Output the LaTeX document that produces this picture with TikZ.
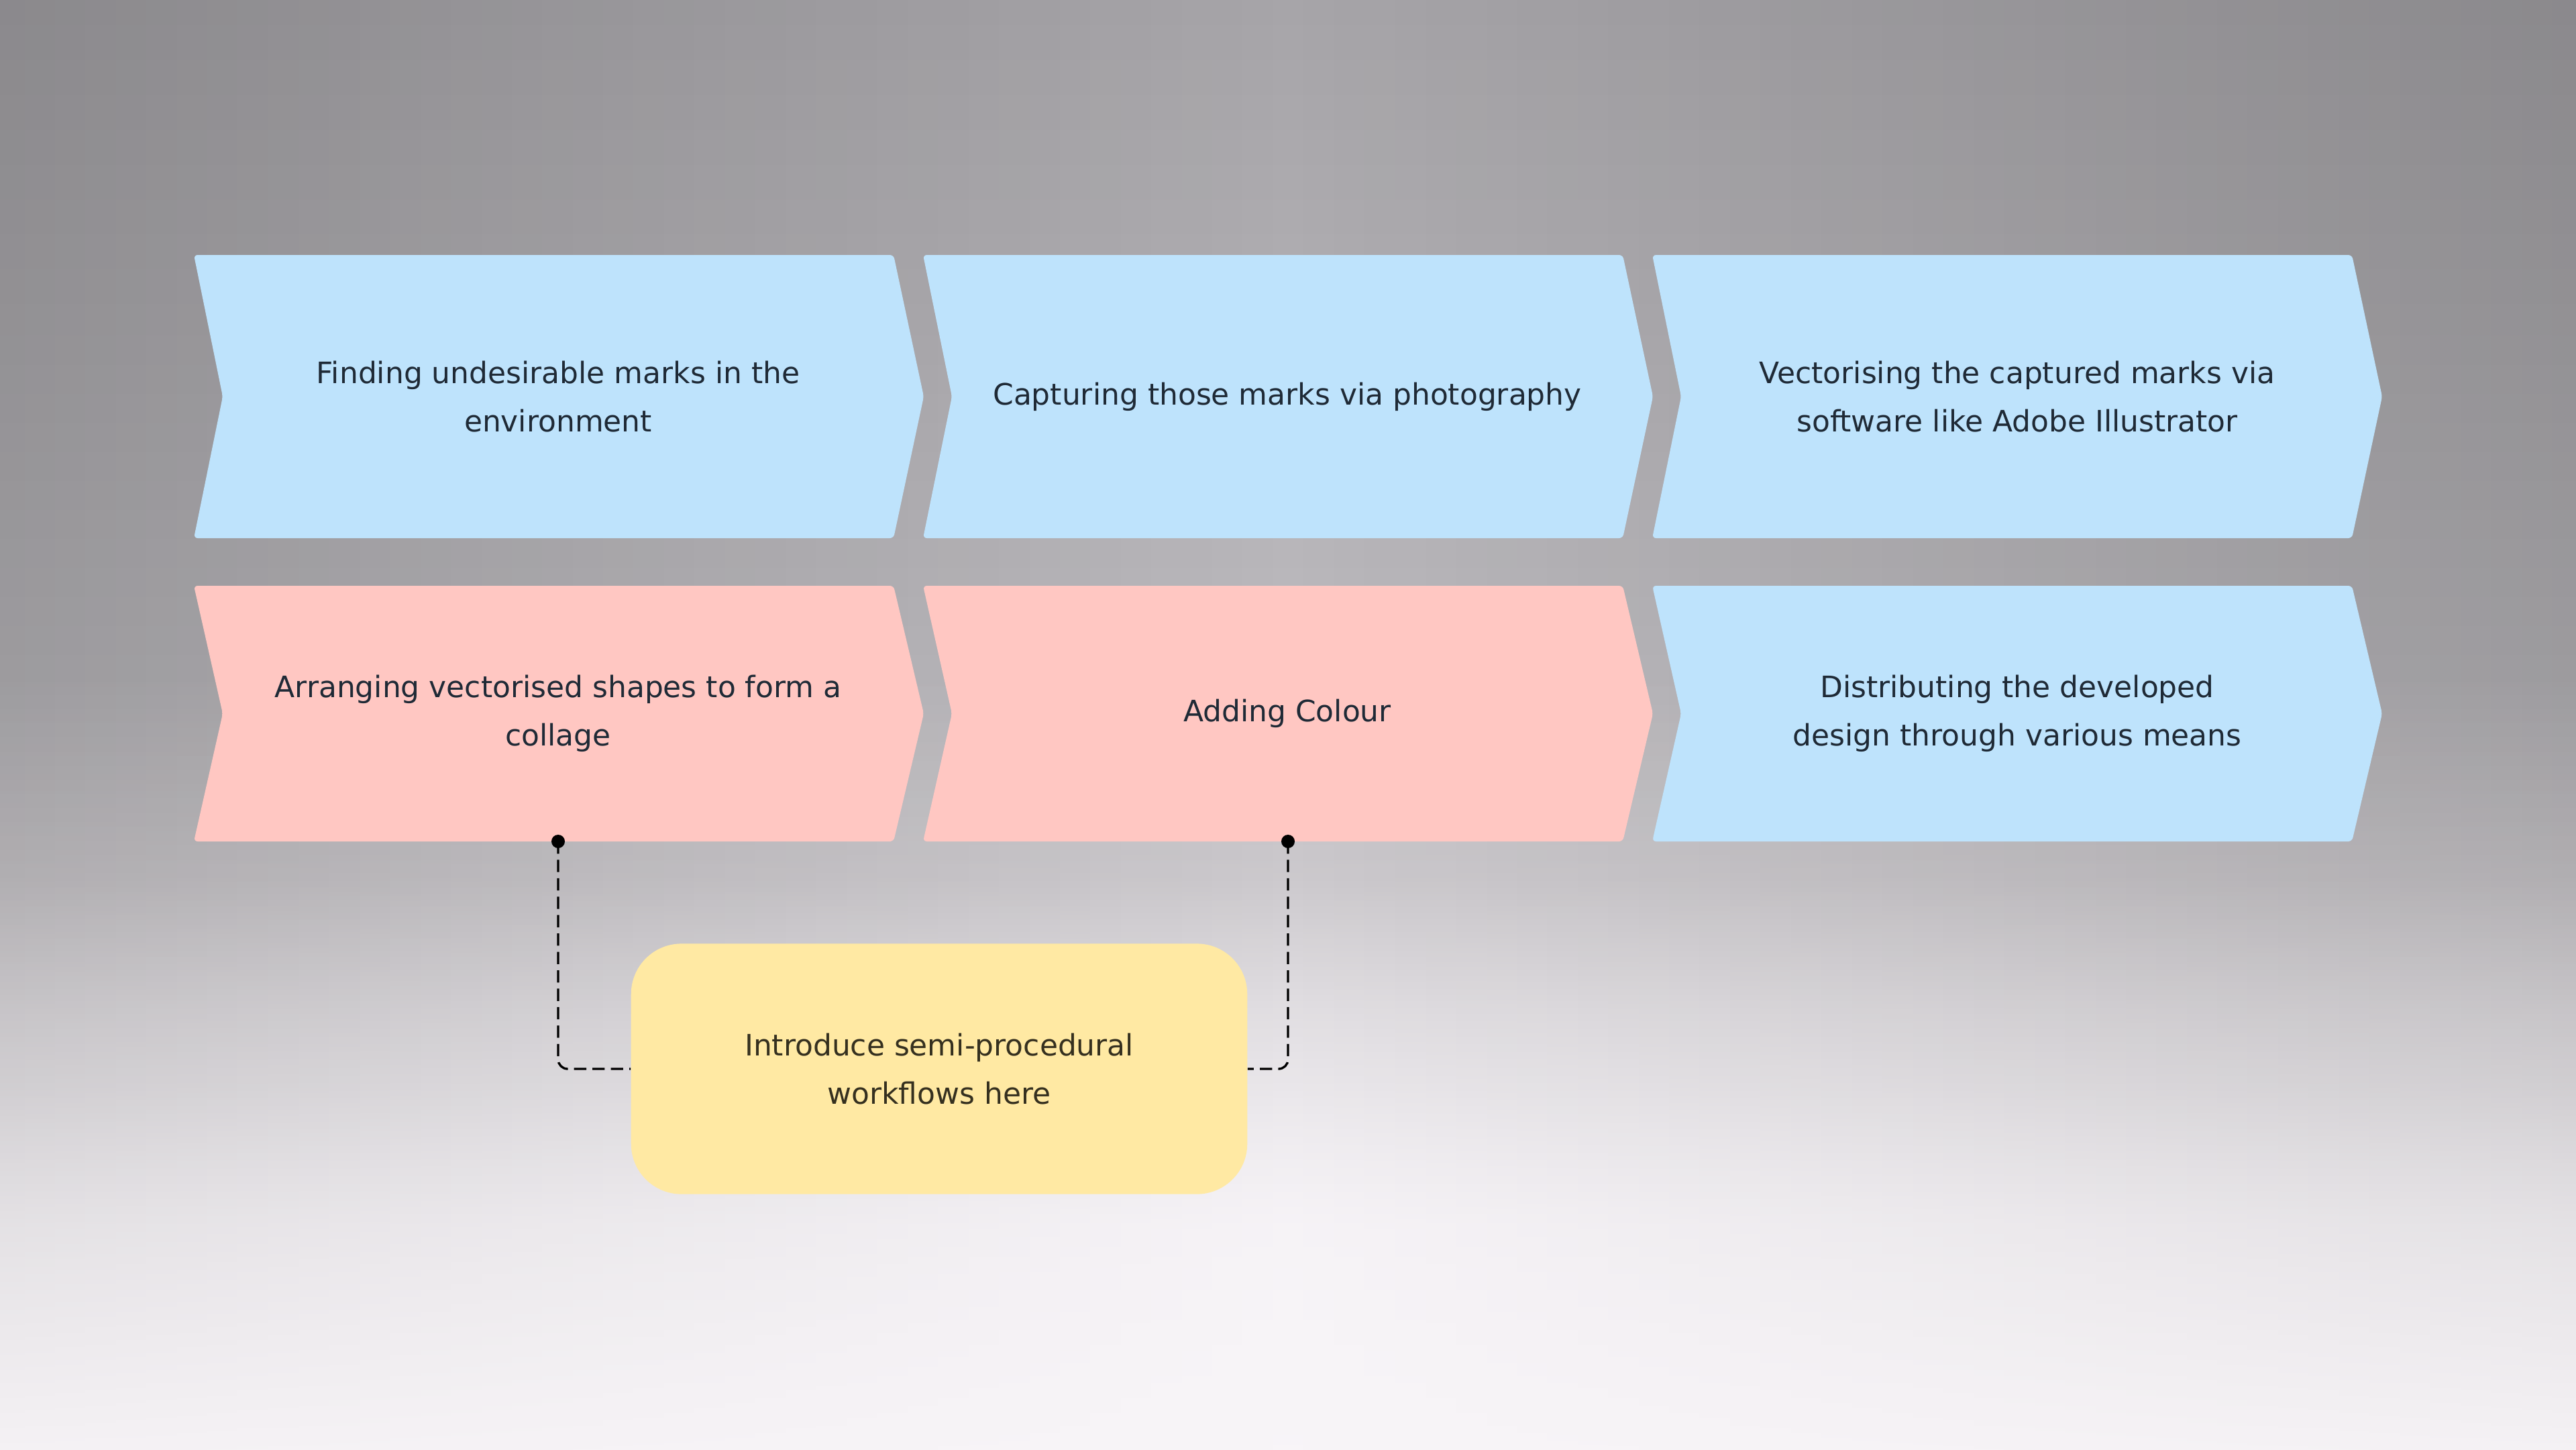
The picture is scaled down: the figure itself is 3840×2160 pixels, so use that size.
\documentclass[tikz,border=0pt]{standalone}
\usepackage{fontspec}
\setmainfont{DejaVu Sans}
\usetikzlibrary{fadings}
\definecolor{cblue}{HTML}{BEE3FC}
\definecolor{cpink}{HTML}{FFC7C2}
\definecolor{cyel}{HTML}{FFE9A3}
\definecolor{ctext}{HTML}{1F2A36}
\definecolor{cytext}{HTML}{35301F}
\definecolor{bgA}{HTML}{A6A4A8}
\definecolor{bgB}{HTML}{B0AEB2}
\definecolor{bgC}{HTML}{BCBABE}
\definecolor{bgD}{HTML}{C3C0C4}
\definecolor{bgE}{HTML}{D9D6DA}
\definecolor{bgF}{HTML}{F4F1F5}
\definecolor{bgG}{HTML}{F8F5F8}
\pgfdeclareverticalshading{bgshade}{100bp}{color(0bp)=(bgG); color(25bp)=(bgG); color(33.33bp)=(bgF); color(40.28bp)=(bgE); color(44.91bp)=(bgD); color(51.85bp)=(bgC); color(63.43bp)=(bgB); color(75bp)=(bgA); color(100bp)=(bgA)}
\tikzfading[name=sidefade, left color=transparent!83, right color=transparent!83, middle color=transparent!100]
\tikzfading[name=bottomfade, top color=transparent!100, bottom color=transparent!0, middle color=transparent!65]
\newcommand\chevshape[4]{%
  \fill[#4, rounded corners=1.6pt] (#1,#2) -- ({#1+1043},#2) -- ({#1+1088},{(#2+#3)/2}) -- ({#1+1043},#3) -- (#1,#3) -- ({#1+43},{(#2+#3)/2}) -- cycle;}
\begin{document}
\begin{tikzpicture}[x=0.01cm, y=-0.01cm,
  stxt/.style={align=center, text=ctext, font=\fontsize{12.5}{20.5}\selectfont, inner sep=0pt},
  note/.style={fill=cyel, rounded corners=0.75cm, minimum width=9.18cm, minimum height=3.73cm,
    align=center, text=cytext, font=\fontsize{12.5}{20.5}\selectfont},
  conn/.style={draw=black, line width=0.95pt, dash pattern=on 5.2pt off 2.6pt, rounded corners=4pt},
  dotnode/.style={circle, fill=black, inner sep=0pt, minimum size=0.2cm}]
\useasboundingbox (0,0) rectangle (3840,2160);
% background (drawn past the page edges)
\shade[shading=bgshade] (-40,-40) rectangle (3880,2200);
\fill[black, path fading=sidefade] (-40,-40) rectangle (3880,2200);
\fill[bgG, path fading=bottomfade] (-40,1000) rectangle (3880,2240);
% chevrons
\chevshape{289}{380}{802}{cblue}
\chevshape{1376}{380}{802}{cblue}
\chevshape{2463}{380}{802}{cblue}
\chevshape{289}{873}{1254}{cpink}
\chevshape{1376}{873}{1254}{cpink}
\chevshape{2463}{873}{1254}{cblue}
% texts
\node[stxt] (s1) at (832,591) {Finding undesirable marks in the\\environment};
\node[stxt] (s2) at (1919,591) {Capturing those marks via photography};
\node[stxt] (s3) at (3007,591) {Vectorising the captured marks via\\software like Adobe Illustrator};
\node[stxt] (s4) at (832,1063) {Arranging vectorised shapes to form a\\collage};
\node[stxt] (s5) at (1919,1063) {Adding Colour};
\node[stxt] (s6) at (3007,1063) {Distributing the developed\\design through various means};
% note
\node[note] (note) at (1400,1593) {Introduce semi-procedural\\workflows here};
% connectors
\node[dotnode] (p4) at (832,1254) {};
\node[dotnode] (p5) at (1920,1254) {};
\draw[conn] (p4.center) |- (note.west);
\draw[conn] (p5.center) |- (note.east);
\end{tikzpicture}
\end{document}
